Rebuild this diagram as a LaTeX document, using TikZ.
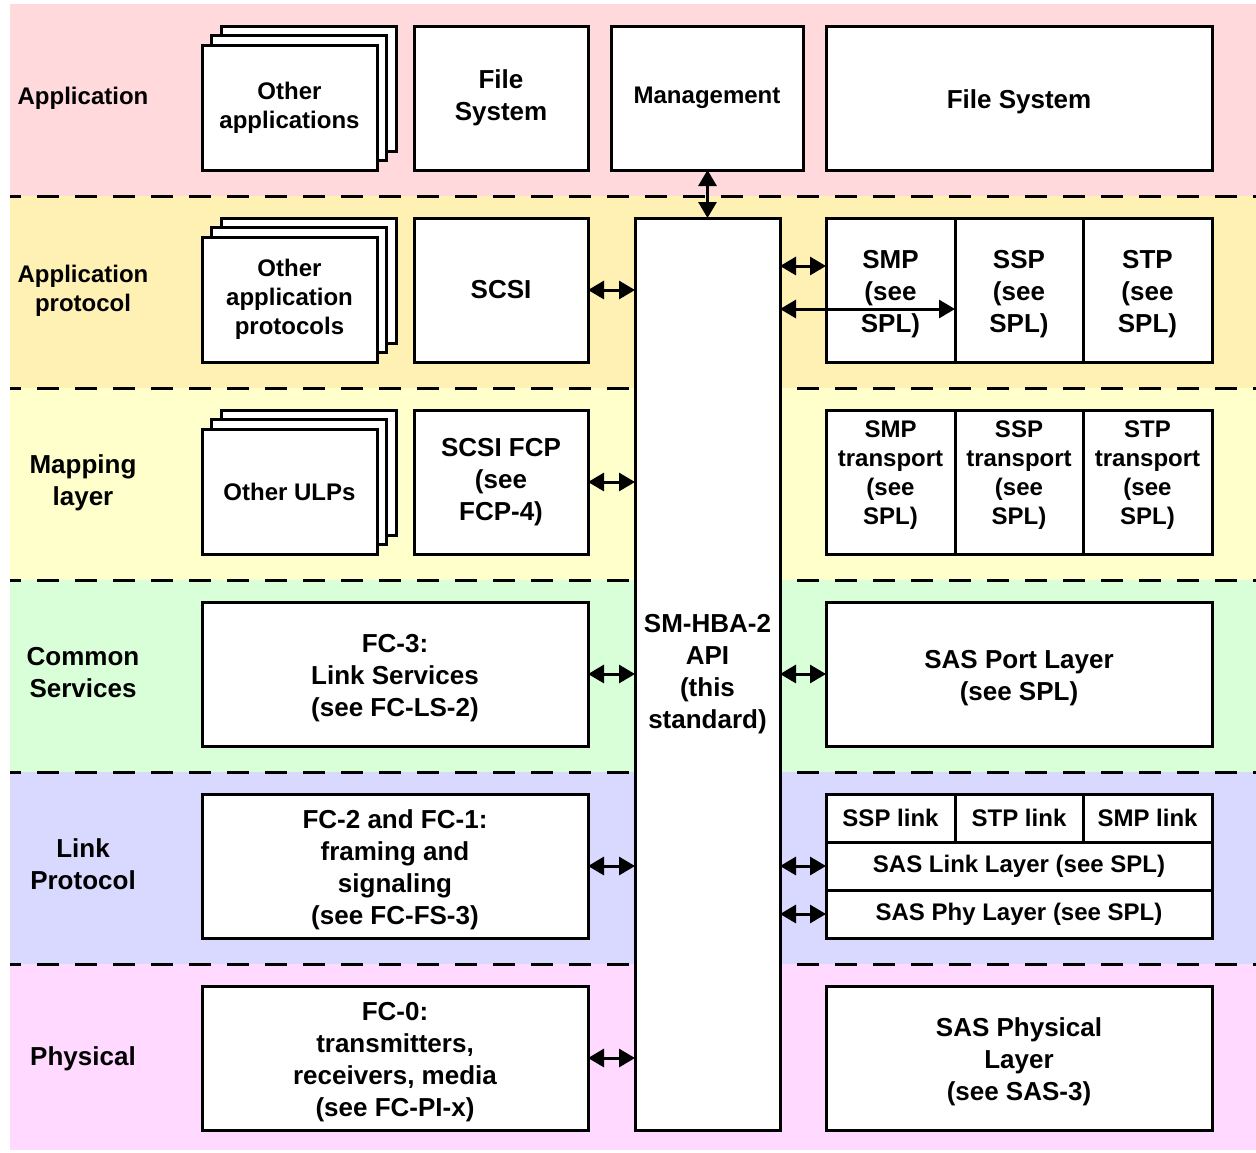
\documentclass[tikz,border=0pt]{standalone}
\usepackage{fontspec}
\setmainfont{Liberation Sans}
\usepackage{xcolor}
\usetikzlibrary{arrows.meta}
\usetikzlibrary{calc}
\definecolor{appbg}{RGB}{255,217,220}
\definecolor{protobg}{RGB}{255,240,180}
\definecolor{mapbg}{RGB}{255,255,204}
\definecolor{commonbg}{RGB}{217,255,217}
\definecolor{linkbg}{RGB}{217,217,255}
\definecolor{physbg}{RGB}{255,217,255}
\newcommand{\bigtxt}{\fontsize{26}{32}\selectfont\bfseries}
\newcommand{\smalltxt}{\fontsize{24}{29}\selectfont\bfseries}
\newcommand{\toppad}{\rule{0pt}{27pt}}
\tikzstyle{blk}=[draw, line width=3pt, fill=white, align=center, inner sep=0pt, outer sep=0pt, font=\bigtxt]
\tikzstyle{sblk}=[blk, font=\smalltxt]
\tikzstyle{narrow}=[minimum width=174pt]
\tikzstyle{wide}=[minimum width=386pt]
\tikzstyle{tall}=[minimum height=144pt]
\tikzstyle{row}=[minimum height=48pt]
\tikzstyle{lifted}=[execute at end node={\rule[-19pt]{0pt}{19pt}}]
\tikzstyle{layerlbl}=[align=center, inner sep=0pt, font=\bigtxt]
\tikzstyle{layersep}=[line width=3pt, dash pattern=on 22pt off 16pt, dash phase=11pt]
\tikzstyle{biarrow}=[line width=3pt, {Triangle[length=16pt,width=18pt]}-{Triangle[length=16pt,width=18pt]}]
\newcommand{\stackbox}[3]{
	\foreach \k in {2,1} {\node[sblk, minimum width=175pt, minimum height=125pt] (#1\k) at ($#2+(9.5*\k,-9.5*\k)$) {};}
	\node[sblk, minimum width=175pt, minimum height=125pt] (#1) at #2 {#3};
}

\begin{document}
\begin{tikzpicture}[x=1pt, y=-1pt]
	\useasboundingbox (0,0) rectangle (1256,1152);
	\fill[appbg] (10,4) rectangle (1256,196);
	\fill[protobg] (10,196) rectangle (1256,388);
	\fill[mapbg] (10,388) rectangle (1256,580);
	\fill[commonbg] (10,580) rectangle (1256,772);
	\fill[linkbg] (10,772) rectangle (1256,964);
	\fill[physbg] (10,964) rectangle (1256,1150);
	\foreach \y in {196,388,580,772,964} {\draw[layersep] (10,\y) -- (1256,\y);}
	\node[layerlbl, font=\smalltxt] (lapp) at (83,98) {Application};
	\node[layerlbl, font=\smalltxt] (lproto) at (83,291) {Application\\protocol};
	\node[layerlbl] (lmap) at (83,483) {Mapping\\layer};
	\node[layerlbl] (lcommon) at (83,673) {Common\\Services};
	\node[layerlbl] (llink) at (83,864) {Link\\Protocol};
	\node[layerlbl] (lphys) at (83,1059) {Physical};
	% application
	\stackbox{oapp}{(289.5,107.5)}{Other\\applications}
	\node[blk, narrow, tall] (fsys) at (501,98) {File\\System};
	\node[sblk, tall, minimum width=192pt] (mgmt) at (707,98) {Management};
	\node[blk, wide, tall] (bigfs) at (1019,98) {\toppad File System};
	% application protocol
	\stackbox{oproto}{(289.5,299.5)}{Other\\application\\protocols}
	\node[blk, narrow, tall] (scsi) at (501,290) {SCSI};
	\node[blk, minimum width=145pt, minimum height=912pt] (api) at (707.5,674) {SM-HBA-2\\API\\(this\\standard)};
	\node[blk, tall, minimum width=129pt] (smp) at (890.5,290) {\toppad SMP\\(see\\SPL)};
	\node[blk, tall, minimum width=128pt] (ssp) at (1019,290) {\toppad SSP\\(see\\SPL)};
	\node[blk, tall, minimum width=129pt] (stp) at (1147.5,290) {\toppad STP\\(see\\SPL)};
	% mapping
	\stackbox{oulp}{(289.5,491.5)}{Other ULPs}
	\node[blk, narrow, tall] (fcp) at (501,482) {SCSI FCP\\(see\\FCP-4)};
	\node[sblk, tall, lifted, minimum width=129pt] (smpt) at (890.5,482) {SMP\\transport\\(see\\SPL)};
	\node[sblk, tall, lifted, minimum width=128pt] (sspt) at (1019,482) {SSP\\transport\\(see\\SPL)};
	\node[sblk, tall, lifted, minimum width=129pt] (stpt) at (1147.5,482) {STP\\transport\\(see\\SPL)};
	% common services
	\node[blk, wide, tall] (fc3) at (395,674) {\toppad FC-3:\\Link Services\\(see FC-LS-2)};
	\node[blk, wide, tall] (port) at (1019,674) {\toppad SAS Port Layer\\(see SPL)};
	% link
	\node[blk, wide, tall] (fc2) at (395,866) {\toppad FC-2 and FC-1:\\framing and\\signaling\\(see FC-FS-3)};
	\node[sblk, row, minimum width=129pt] (ssplink) at (890.5,818) {SSP link};
	\node[sblk, row, minimum width=128pt] (stplink) at (1019,818) {STP link};
	\node[sblk, row, minimum width=129pt] (smplink) at (1147.5,818) {SMP link};
	\node[sblk, row, wide] (linkl) at (1019,866) {SAS Link Layer (see SPL)};
	\node[sblk, row, wide] (phyl) at (1019,914) {SAS Phy Layer (see SPL)};
	% physical
	\node[blk, wide, tall] (fc0) at (395,1058) {\toppad FC-0:\\transmitters,\\receivers, media\\(see FC-PI-x)};
	\node[blk, wide, tall] (sasphys) at (1019,1058) {\toppad SAS Physical\\Layer\\(see SAS-3)};
	% connections to the API
	\draw[biarrow] (api.north |- mgmt.south) -- (api.north);
	\foreach \b in {scsi,fcp,fc3,fc2,fc0} {\draw[biarrow] (\b.east) -- (\b.east -| api.west);}
	\foreach \b in {port,linkl,phyl} {\draw[biarrow] (\b.west -| api.east) -- (\b.west);}
	\coordinate (smpin) at ([yshift=24pt]smp.west);
	\coordinate (smpend) at ([yshift=-19pt]smp.east);
	\draw[biarrow] (api.east |- smpin) -- (smpin);
	\draw[biarrow] (api.east |- smpend) -- (smpend);
\end{tikzpicture}
\end{document}
